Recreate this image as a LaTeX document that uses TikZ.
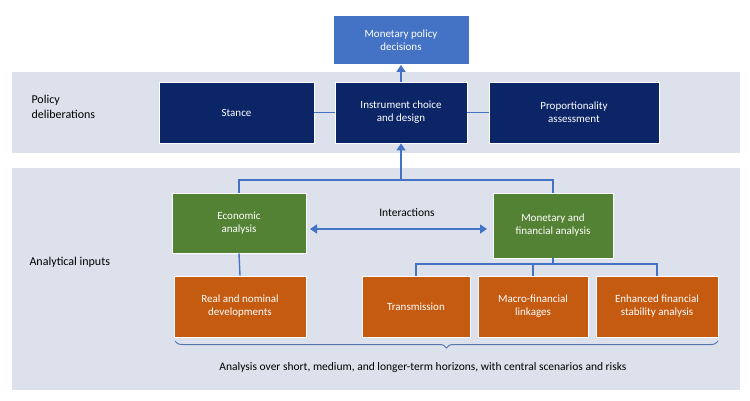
\documentclass[tikz,border=0pt]{standalone}
\usepackage{fontspec}
\setmainfont{Carlito}
\usetikzlibrary{decorations.pathreplacing,arrows.meta}
\definecolor{band}{HTML}{DCE1EC}
\definecolor{navy}{HTML}{0B2566}
\definecolor{bluebox}{HTML}{4472C4}
\definecolor{grn}{HTML}{548235}
\definecolor{org}{HTML}{C55A11}
\definecolor{ln}{HTML}{4472C4}
\begin{document}
\begin{tikzpicture}[x=1pt,y=-1pt,
  box/.style={draw=white,line width=0.8pt,text=white,align=center,font=\fontsize{11}{13}\selectfont,inner sep=0pt},
  lab/.style={align=left,font=\fontsize{12}{15}\selectfont,anchor=west},
  con/.style={draw=ln,line width=1.4pt},
  arr/.style={con,-{Triangle[length=7pt,width=9pt]}}]
\useasboundingbox (0,0) rectangle (750,401);
\fill[white] (0,0) rectangle (750,401);
\fill[band] (12,72) rectangle (740,153);
\fill[band] (12,168) rectangle (740,390);
\node[box,fill=bluebox,minimum width=136pt,minimum height=49pt] (mpd) at (401,40) {Monetary policy\\decisions};
\node[box,fill=navy,minimum width=155pt,minimum height=61pt] (st) at (236.5,112.5) {Stance};
\node[box,fill=navy,minimum width=132pt,minimum height=61pt] (ic) at (401,112.5) {Instrument choice\\and design};
\node[box,fill=navy,minimum width=170pt,minimum height=61pt] (pa) at (574,112.5) {Proportionality\\assessment};
\node[lab] (pd) at (28,107) {Policy\\deliberations};
\node[lab] (ai) at (26,262) {Analytical inputs};
\node[box,fill=grn,minimum width=134pt,minimum height=60pt] (ea) at (239,223) {Economic\\analysis};
\node[box,fill=grn,minimum width=120pt,minimum height=65pt] (mf) at (553,225.5) {Monetary and\\financial analysis};
\node[box,fill=org,minimum width=132pt,minimum height=61pt] (rn) at (240,306.5) {Real and nominal\\developments};
\node[box,fill=org,minimum width=108pt,minimum height=61pt] (tr) at (416,306.5) {Transmission};
\node[box,fill=org,minimum width=110pt,minimum height=61pt] (ml) at (533,306.5) {Macro-financial\\linkages};
\node[box,fill=org,minimum width=122pt,minimum height=61pt] (ef) at (657,306.5) {Enhanced financial\\stability analysis};
\node[font=\fontsize{11.5}{14}\selectfont] (ia) at (407,213) {Interactions};
\node[font=\fontsize{11.5}{14}\selectfont] (bt) at (423,367) {Analysis over short, medium, and longer-term horizons, with central scenarios and risks};
\coordinate (j) at (401,180);
\draw[con] (st) -- (ic) -- (pa);
\draw[arr] (ic.north) -- (mpd.south);
\draw[con] (ea.north) |- (j) -| (mf.north);
\draw[arr] (j) -- (ic.south);
\draw[con,{Triangle[length=7pt,width=9pt]}-{Triangle[length=7pt,width=9pt]}] (310,229) -- (487,229);
\draw[con] (ea.south) -- (rn.north);
\coordinate (k) at (553,264);
\draw[con] (mf.south) -- (k);
\draw[con] (tr.north) |- (k) -| (ef.north);
\draw[con] (ml.north) -- (ml.north|-k);
\draw[draw=ln!70!gray,line width=1pt,decoration={brace,amplitude=7pt},decorate] (718,341) -- (175,341);
\end{tikzpicture}
\end{document}
